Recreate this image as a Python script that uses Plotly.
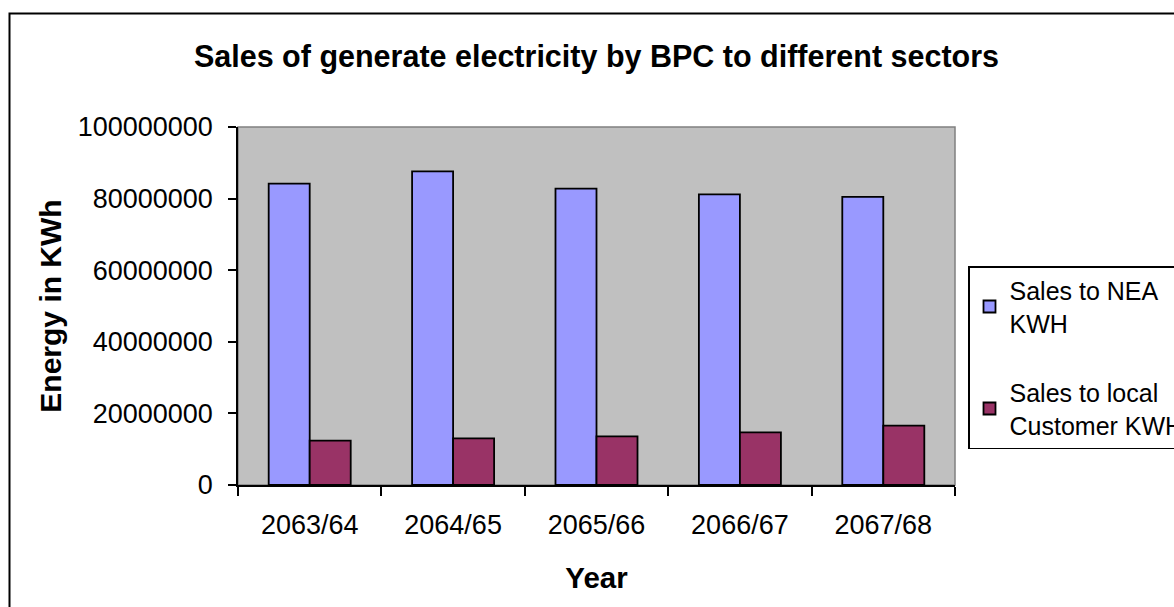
import plotly.graph_objects as go

# Fiscal years (Nepali calendar)
years = ["2063/64", "2064/65", "2065/66", "2066/67", "2067/68"]

# Energy sold, in kWh
sales_nea = [84200000, 87600000, 82800000, 81200000, 80500000]
sales_local = [12400000, 13000000, 13600000, 14700000, 16600000]

y_ticks = [0, 20000000, 40000000, 60000000, 80000000, 100000000]

FONT = "Liberation Sans, Arial, sans-serif"

fig = go.Figure()
fig.add_trace(go.Bar(
    x=years, y=sales_nea, name="Sales to NEA<br>KWH",
    marker=dict(color="#9999FF", line=dict(color="black", width=1.8)),
    legendgroup="nea",
))
fig.add_trace(go.Bar(
    x=years, y=sales_local, name="Sales to local<br>Customer KWH",
    marker=dict(color="#993366", line=dict(color="black", width=1.8)),
    legendgroup="local",
))

W, H = 1174, 607
L, R, T, B = 238, 955, 127, 485
pw, ph = R - L, B - T


def px_x(x):
    return (x - L) / pw


def px_y(y):
    return (B - y) / ph


fig.update_layout(
    width=W, height=H,
    margin=dict(l=L, r=W - R, t=T, b=H - B, pad=0, autoexpand=False),
    paper_bgcolor="white",
    plot_bgcolor="#C0C0C0",
    font=dict(family=FONT, color="black", size=27),
    barmode="group",
    bargap=0.428,
    bargroupgap=0,
    title=dict(
        text="<b>Sales of generate electricity by BPC to different sectors</b>",
        font=dict(size=30.5, family=FONT, color="black"),
        x=0.5, xref="paper", xanchor="center",
        y=1 - 56 / H, yref="container", yanchor="middle",
    ),
    xaxis=dict(
        type="category",
        showline=True, linecolor="black", linewidth=1.5,
        ticks="outside", ticklen=9, tickwidth=1.5, tickcolor="black",
        tickson="boundaries",
        showgrid=False,
        tickfont=dict(size=27),
        ticklabelstandoff=15,
        title=dict(text="<b>Year</b>", font=dict(size=29.5), standoff=28),
    ),
    yaxis=dict(
        range=[0, 100000000],
        tickvals=y_ticks,
        tickformat="d",
        showline=True, linecolor="black", linewidth=1.5,
        ticks="outside", ticklen=8, tickwidth=1.5, tickcolor="black",
        showgrid=False, zeroline=False,
        tickfont=dict(size=27),
        ticklabelstandoff=10,
        title=dict(text="<b>Energy in KWh</b>", font=dict(size=30), standoff=7),
    ),
    legend=dict(
        x=px_x(968), y=px_y(266), xanchor="left", yanchor="top",
        bordercolor="black", borderwidth=1.5, bgcolor="white",
        font=dict(size=25),
        tracegroupgap=34,
    ),
    shapes=[
        # plot area border
        dict(type="rect", xref="paper", yref="paper", x0=0, x1=1, y0=0, y1=1,
             line=dict(color="#808080", width=1.5), layer="below"),
        # chart frame
        dict(type="rect", xref="paper", yref="paper",
             x0=px_x(9.5), x1=px_x(1190), y0=px_y(625), y1=px_y(13.5),
             line=dict(color="black", width=2)),
    ],
)

fig.write_html("out.html")
